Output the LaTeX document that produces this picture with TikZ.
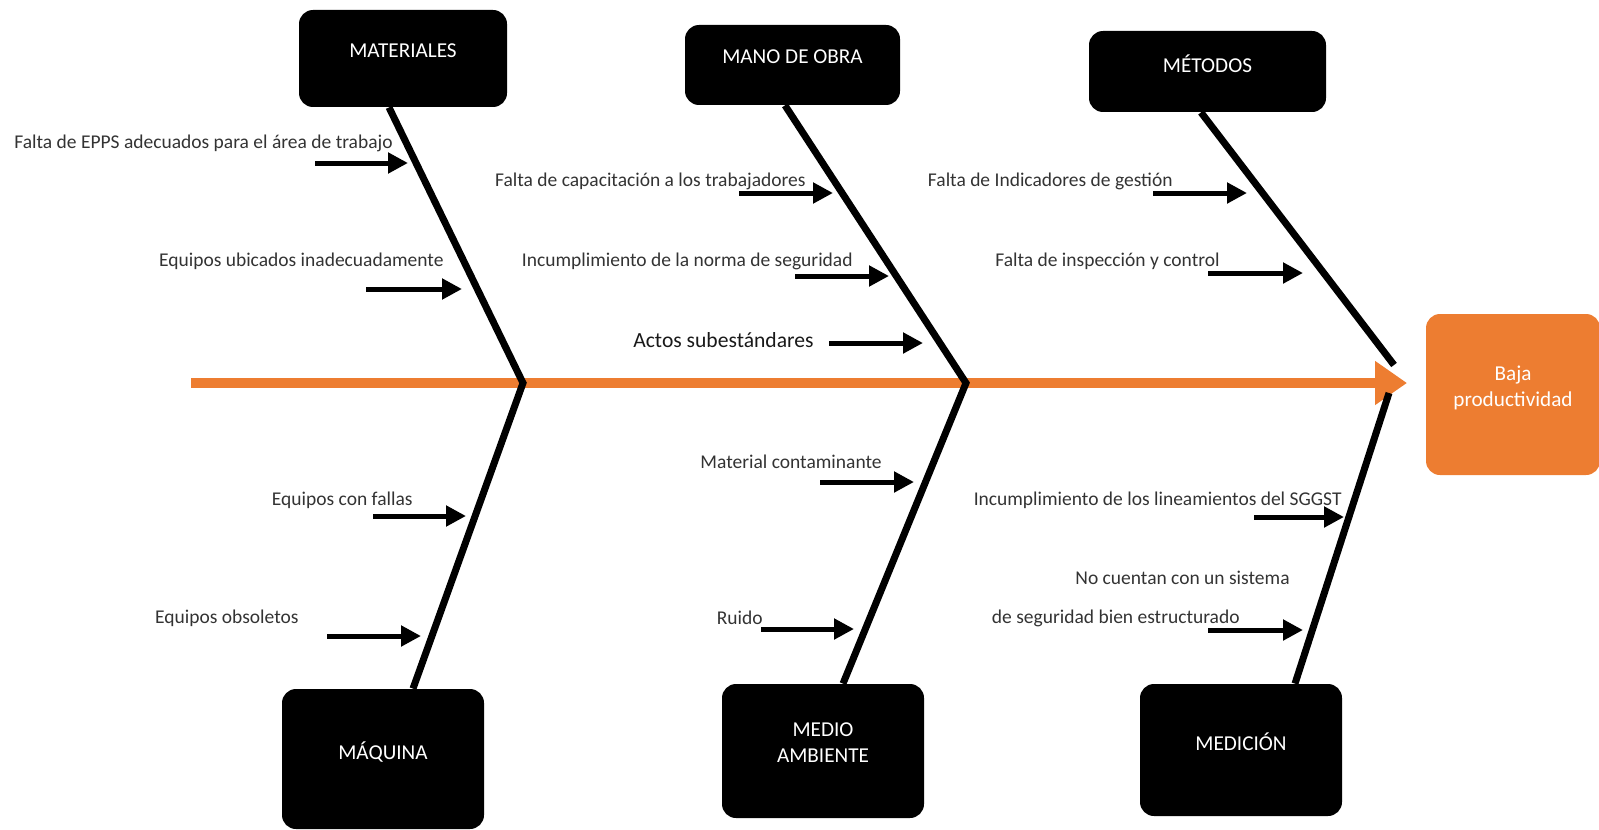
\documentclass[tikz,border=0pt]{standalone}
\usepackage{fontspec}
\setmainfont{Carlito}
\usetikzlibrary{positioning, shapes, arrows.meta}
\definecolor{naranja}{HTML}{ED7D31}

\begin{document}
\begin{tikzpicture}[x=0.5pt,y=-0.5pt,
  cat/.style={fill=black, text=white, rounded corners=7pt, align=center,
    font=\fontsize{10.6}{13}\selectfont, text depth=8pt},
  bone/.style={line width=3.5pt},
  cause/.style={line width=2.5pt, -{Triangle[length=10pt,width=10pt]}},
  lbl/.style={anchor=east, inner sep=0pt, text=black!80, font=\fontsize{9.75}{11}\selectfont}]
  \useasboundingbox (0,0) rectangle (1599,829);

  \node[cat, minimum width=104pt, minimum height=48.5pt] (mat) at (403,58.5) {MATERIALES};
  \node[cat, minimum width=107.5pt, minimum height=40pt] (mano) at (792.5,65) {MANO DE OBRA};
  \node[cat, minimum width=118.5pt, minimum height=40.5pt] (met) at (1207.5,71.5) {MÉTODOS};
  \node[cat, minimum width=101pt, minimum height=70pt] (maq) at (383,759) {MÁQUINA};
  \node[cat, minimum width=101pt, minimum height=67pt] (medio) at (823,751) {MEDIO\\AMBIENTE};
  \node[cat, minimum width=101pt, minimum height=66pt] (medic) at (1241,750) {MEDICIÓN};
  \node[cat, fill=naranja, minimum width=87pt, minimum height=80.5pt] (efecto) at (1513,394.5) {Baja\\productividad};

  \coordinate (cola) at (191,383);
  \coordinate (j1) at (523,383);
  \coordinate (j2) at (966,383);
  \coordinate (j3) at (1394,365);
  \coordinate (j4) at (1389,393);
  \draw[naranja, line width=5pt, -{Triangle[length=16pt,width=21pt]}] (cola) -- (1407,383);

  \draw[bone] ([xshift=-7pt]mat.south) -- (j1) -- ([xshift=15pt]maq.north);
  \draw[bone] ([xshift=-3.75pt]mano.south) -- (j2) -- ([xshift=10pt]medio.north);
  \draw[bone] ([xshift=-3.25pt]met.south) -- (j3);
  \draw[bone] (j4) -- ([xshift=27pt]medic.north);

  \node[lbl] (c1) at (393,143) {Falta de EPPS adecuados para el área de trabajo};
  \node[lbl] (c2) at (444,261) {Equipos ubicados inadecuadamente};
  \node[lbl] (c3) at (806,181) {Falta de capacitación a los trabajadores};
  \node[lbl] (c4) at (853,261) {Incumplimiento de la norma de seguridad};
  \node[lbl, text=black!90, font=\fontsize{10.8}{12}\selectfont] (c5) at (814,340) {Actos subestándares};
  \node[lbl] (c6) at (1173,181) {Falta de Indicadores de gestión};
  \node[lbl] (c7) at (1220,261) {Falta de inspección y control};
  \node[lbl] (c8) at (413,500) {Equipos con fallas};
  \node[lbl] (c9) at (299,618) {Equipos obsoletos};
  \node[lbl] (c10) at (882,462) {Material contaminante};
  \node[lbl] (c11) at (763,618) {Ruido};
  \node[lbl] (c12) at (1342,500) {Incumplimiento de los lineamientos del SGGST};
  \node[lbl] (c13) at (1290,578) {No cuentan con un sistema};
  \node[lbl] (c14) at (1240,618) {de seguridad bien estructurado};

  \draw[cause] (315,163) coordinate (a1) -- (408,163) coordinate (b1);
  \draw[cause] (366,289) coordinate (a2) -- (462,289) coordinate (b2);
  \draw[cause] (739,193) coordinate (a3) -- (833,193) coordinate (b3);
  \draw[cause] (795,276) coordinate (a4) -- (889,276) coordinate (b4);
  \draw[cause] (829,343) coordinate (a5) -- (923,343) coordinate (b5);
  \draw[cause] (1153,193) coordinate (a6) -- (1247,193) coordinate (b6);
  \draw[cause] (1208,273) coordinate (a7) -- (1303,273) coordinate (b7);
  \draw[cause] (373,516) coordinate (a8) -- (466,516) coordinate (b8);
  \draw[cause] (327,636) coordinate (a9) -- (421,636) coordinate (b9);
  \draw[cause] (820,482) coordinate (a10) -- (914,482) coordinate (b10);
  \draw[cause] (761,629) coordinate (a11) -- (854,629) coordinate (b11);
  \draw[cause] (1254,517) coordinate (a12) -- (1344,517) coordinate (b12);
  \draw[cause] (1208,630) coordinate (a13) -- (1303,630) coordinate (b13);
\end{tikzpicture}
\end{document}
